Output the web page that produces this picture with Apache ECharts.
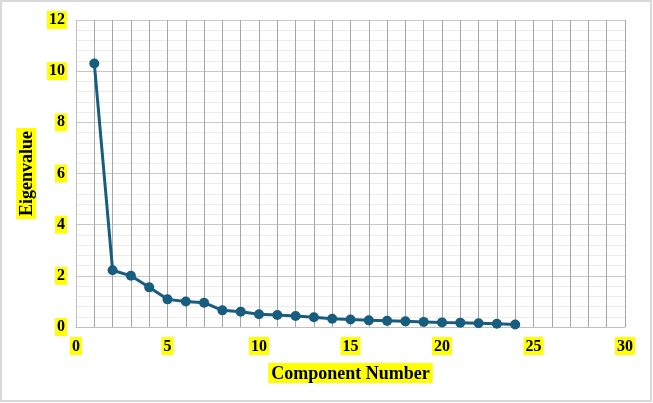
<!DOCTYPE html>
<html><head><meta charset="utf-8">
<script src="https://cdn.jsdelivr.net/npm/echarts@6/dist/echarts.min.js"></script>
<style>html,body{margin:0;padding:0;background:#fff}#c{width:653px;height:403px}</style>
</head><body><div id="c"></div>
<script>
const components = [1,2,3,4,5,6,7,8,9,10,11,12,13,14,15,16,17,18,19,20,21,22,23,24];
const eigenvalues = [10.3,2.22,2.0,1.55,1.08,1.0,0.95,0.65,0.6,0.5,0.47,0.43,0.38,0.32,0.29,0.26,0.24,0.22,0.2,0.18,0.17,0.15,0.13,0.1];
const xTitle = 'Component Number';
const yTitle = 'Eigenvalue';
const labelStyle = {fontFamily:'Liberation Serif',fontWeight:'bold',fontSize:16,color:'#000',backgroundColor:'#ffff00',padding:[2,2,0,2]};
const chart = echarts.init(document.getElementById('c'));
chart.setOption({
  animation:false,
  graphic:[{type:'rect',shape:{x:1,y:1,width:650,height:400},style:{fill:'none',stroke:'#d9d9d9',lineWidth:2},silent:true}],
  grid:{left:76,right:28,top:20,bottom:76},
  xAxis:{type:'value',min:0,max:30,interval:5,
    name:xTitle,nameLocation:'middle',nameGap:36,
    nameTextStyle:Object.assign({},labelStyle,{fontSize:18,padding:[2,3,0,3]}),
    axisLine:{show:true,lineStyle:{color:'#bfbfbf'}},axisTick:{show:false},
    axisLabel:Object.assign({margin:10},labelStyle),
    splitLine:{show:true,lineStyle:{color:'#a6a6a6',width:1}},
    minorTick:{show:false,splitNumber:5},
    minorSplitLine:{show:true,lineStyle:{color:'#a6a6a6',width:1}}},
  yAxis:{type:'value',min:0,max:12,interval:2,
    name:yTitle,nameLocation:'middle',nameGap:34,nameRotate:90,
    nameTextStyle:Object.assign({},labelStyle,{fontSize:18,padding:[2,3,0,3]}),
    axisLine:{show:true,lineStyle:{color:'#bfbfbf'}},axisTick:{show:false},
    axisLabel:Object.assign({margin:9},labelStyle),
    splitLine:{show:true,lineStyle:{color:'#c8c8c8',width:1}},
    minorTick:{show:false,splitNumber:5},
    minorSplitLine:{show:true,lineStyle:{color:'#ececec',width:1}}},
  series:[{type:'line',data:components.map((c,i)=>[c,eigenvalues[i]]),
    symbol:'circle',symbolSize:10,
    lineStyle:{color:'#175e7e',width:3},
    itemStyle:{color:'#175e7e'}}]
});
</script></body></html>
